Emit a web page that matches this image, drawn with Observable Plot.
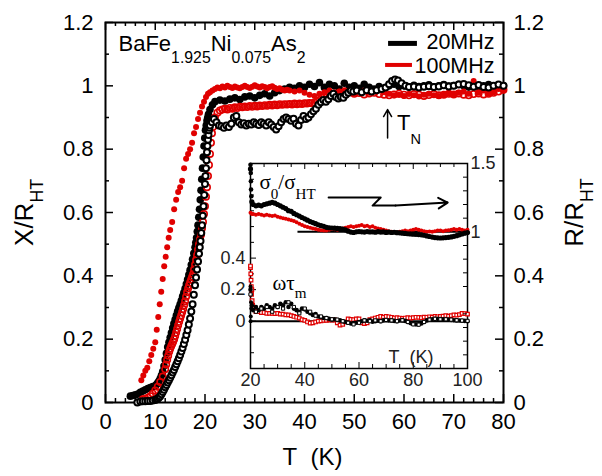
<!DOCTYPE html>
<html><head><meta charset="utf-8">
<script src="https://cdn.jsdelivr.net/npm/d3@7"></script>
<script src="https://cdn.jsdelivr.net/npm/@observablehq/plot@0.6"></script>
<style>
html,body{margin:0;padding:0;background:#fff;}
#chart{position:relative;width:602px;height:476px;overflow:hidden;}
#chart svg{position:absolute;overflow:visible;}
</style></head><body><div id="chart"></div>
<script>
// ---------------- DATA ----------------
// Main panel: [T (K), value]
const x20 = [[5.0,.020],[5.5,.022],[6.0,.024],[6.5,.027],[7.0,.032],[7.5,.036],[8.0,.040],[8.5,.044],[9.0,.047],[9.5,.050],[10.0,.053],[10.25,.057],[10.5,.062],[10.75,.068],[11.0,.076],[11.25,.086],[11.5,.098],[11.75,.115],[12.0,.135],[12.25,.155],[12.5,.175],[12.75,.19],[13.0,.205],[13.25,.22],[13.5,.235],[13.75,.249],[14.0,.262],[14.25,.275],[14.5,.288],[14.75,.299],[15.0,.310],[15.25,.322],[15.5,.335],[15.75,.347],[16.0,.360],[16.25,.374],[16.5,.388],[16.75,.403],[17.0,.418],[17.25,.435],[17.5,.452],[17.75,.471],[18.0,.490],[18.15,.505],[18.3,.52],[18.45,.54],[18.6,.56],[18.75,.585],[18.9,.61],[19.05,.64],[19.2,.67],[19.35,.705],[19.5,.74],[19.65,.775],[19.8,.81],[19.95,.835],[20.1,.86],[20.25,.875],[20.4,.89],[20.55,.90],[20.7,.91],[21.0,.925],[21.5,.94],[22,.95],
[23,.955],[24,.952],[25,.958],[26,.962],[27,.957],[28,.965],[29,.968],[30,.962],[31,.970],[32,.975],[33,.968],[34,.978],[35,.985],[36,.990],[37,.995],[38,.992],[39,1.000],[40,.995],[41,1.005],[42,.998],[43,1.010],[44,.995],[45,1.005],[46,1.000],[47,.990],[48,1.008],[49,.995],[50,1.000],[51,.992],[52,1.005],[53,.995],[54,.990],[55,.998],[56,.992],[57,1.000],[58,1.005],[59,.998],[60,1.000],
[61,.997],[62,1.002],[63,.998],[64,1.000],[65,1.003],[66,.997],[67,1.000],[68,1.004],[69,.999],[70,1.001],[71,1.005],[72,1.000],[73,.996],[74,1.002],[75,.998],[76,1.000],[77,1.004],[78,.999],[79,1.002],[80,1.000]];

const x100 = [[7.2,.07],[7.6,.085],[8.0,.10],[8.4,.11],[8.8,.13],[9.2,.15],[9.6,.17],[10.0,.19],[10.3,.23],[10.6,.27],[10.9,.31],[11.2,.35],[11.5,.39],[11.8,.43],[12.1,.46],[12.4,.49],[12.7,.52],[13.0,.545],[13.4,.57],[13.8,.61],[14.2,.64],[14.6,.665],[15.0,.68],[15.4,.70],[15.8,.74],[16.2,.77],[16.6,.785],[17.0,.80],[17.4,.82],[17.8,.85],[18.2,.87],[18.6,.895],[19.0,.915],[19.4,.935],[19.8,.95],[20.2,.965],[20.6,.975],[21.0,.98],[21.5,.985],
[22.0,.990],[22.5,.995],[23.0,.992],[23.5,.998],[24.0,.995],[24.5,1.000],[25.0,.996],[25.5,.993],[26.0,.998],[26.5,.995],[27.0,.992],[27.5,.996],[28.0,1.000],[28.5,.996],[29.0,.993],[29.5,.997],[30.0,1.002],[30.5,.998],[31.0,.995],[31.5,.999],[32.0,.996],[32.5,.992],[33.0,.996],[33.5,.999],[34.0,.994],[34.5,.990],[35.0,.992],[35.5,.988],[36.0,.985],[36.5,.988],
[37,.985],[38,.982],[39,.985],[40,.978],[41,.972],[42,.968],[43,.975],[44,.980],[45,.985],[46,.978],[47,.982],[48,.986],[49,.980],[50,.975],[51,.982],[52,.985],[53,.978],[54,.982],[55,.985],[56,.980],[57,.975],[58,.970],[59,.972],[60,.968],[61,.974],[62,.970],[63,.966],[64,.972],[65,.975],[66,.970],[67,.968],[68,.972],[69,.976],[70,.972],[71,.978],[72,.982],[73,.975],[74,1.015],[75,.978],[76,.985],[77,.975],[78,.980],[79,.990],[80,.985]];

const r100 = [[7.5,.010],[8.0,.012],[8.5,.015],[9.0,.020],[9.5,.028],[10.0,.038],[10.5,.050],[11.0,.065],[11.5,.082],[12.0,.105],[12.2,.12],[12.4,.135],[12.6,.148],[12.8,.160],[13.0,.170],[13.2,.178],[13.4,.185],[13.6,.192],[13.8,.200],[14.0,.210],[14.2,.221],[14.4,.232],[14.6,.244],[14.8,.255],[15.0,.265],[15.2,.275],[15.4,.285],[15.6,.295],[15.8,.307],[16.0,.320],[16.2,.334],[16.4,.348],[16.6,.360],[16.8,.370],[17.0,.379],[17.2,.388],[17.4,.396],[17.6,.405],[17.8,.42],[18.0,.435],[18.2,.45],[18.4,.465],[18.6,.482],[18.8,.50],[19.0,.515],[19.2,.53],[19.4,.55],[19.6,.57],[19.8,.595],[20.0,.62],[20.2,.65],[20.4,.68],[20.6,.715],[20.8,.75],[21.0,.785],[21.2,.82],[21.4,.85],[21.6,.87],[21.8,.89],[22.0,.90],[22.5,.915],
[23,.922],[23.5,.925],[24,.928],[24.5,.925],[25,.930],[25.5,.928],[26,.932],[26.5,.930],[27,.934],[27.5,.932],[28,.935],[28.5,.933],[29,.936],[29.5,.934],[30,.937],[30.5,.935],[31,.938],[31.5,.936],[32,.939],[32.5,.937],[33,.940],[33.5,.938],[34,.941],[34.5,.939],[35,.942],[35.5,.940],[36,.942],[36.5,.941],[37,.943],[37.5,.941],[38,.944],[38.5,.942],[39,.944],[39.5,.943],[40,.945],[40.5,.944],[41,.946],[41.5,.945],[42,.947],[42.5,.950],[43,.955],[43.5,.962],[44,.968],[44.5,.972],[45,.975],
[46,.976],[47,.978],[48,.974],[49,.979],[50,.975],[51,.977],[52,.973],[53,.976],[54,.978],[55,.974],[56,.972],[57,.970],[58,.973],[59,.975],[60,.972],[61,.970],[62,.974],[63,.972],[64,.968],[65,.971],[66,.974],[67,.970],[68,.972],[69,.975],[70,.973],[71,.976],[72,.972],[73,.970],[74,.974],[75,.976],[76,.973],[77,.975],[78,.978],[79,.982],[80,.988]];

const r20 = [[6.4,.000],[7.0,.003],[7.5,.004],[8.0,.004],[8.5,.005],[9.0,.005],[9.5,.006],[10.0,.008],[10.25,.010],[10.5,.012],[10.75,.016],[11.0,.020],[11.25,.026],[11.5,.033],[11.75,.040],[12.0,.048],[12.25,.055],[12.5,.063],[12.75,.070],[13.0,.078],[13.25,.086],[13.5,.095],[13.75,.103],[14.0,.112],[14.25,.121],[14.5,.130],[14.75,.140],[15.0,.150],[15.25,.161],[15.5,.172],[15.75,.185],[16.0,.198],[16.25,.213],[16.5,.228],[16.75,.246],[17.0,.265],[17.25,.287],[17.5,.31],[17.75,.34],[18.0,.37],[18.2,.395],[18.4,.42],[18.6,.445],[18.8,.47],[18.95,.49],[19.1,.51],[19.25,.535],[19.4,.56],[19.55,.59],[19.7,.62],[19.85,.655],[20.0,.69],[20.1,.715],[20.2,.74],[20.3,.765],[20.4,.79],[20.5,.81],[20.6,.83],[20.7,.845],[20.8,.86],[20.9,.868],[21.0,.875],[21.4,.885],[21.8,.895],
[22.3,.885],[22.8,.875],[23.3,.872],[23.8,.868],[24.3,.875],[24.8,.870],[25.3,.880],[25.8,.900],[26.3,.905],[26.8,.885],[27.3,.878],[27.8,.882],[28.3,.875],[28.8,.880],[29.3,.878],[29.8,.885],[30.3,.880],[30.8,.876],[31.3,.885],[31.8,.880],[32.3,.875],[32.8,.885],[33.3,.878],[33.8,.870],[34.3,.862],[34.8,.872],[35.3,.885],[35.8,.895],[36.3,.900],[36.8,.895],[37.3,.890],[37.8,.896],[38.3,.880],[38.8,.875],[39.3,.892],[39.8,.905],[40.3,.895],[40.8,.900],[41.3,.910],[41.8,.920],[42.3,.928],[42.8,.940],[43.3,.948],[43.8,.955],[44.3,.950],[44.8,.958],[45.3,.968],[45.8,.975],[46.3,.965],[46.8,.960],[47.3,.965],[47.8,.962],[48.3,.972],[48.8,.978],[49.3,.985],[49.8,.982],
[50.5,.985],[51.5,.980],[52.5,.986],[53.5,.982],[54.5,.986],[55.5,.990],[56.3,.995],[57.0,1.005],[57.6,1.015],[58.2,1.020],[58.8,1.017],[59.5,1.008],[60.3,1.000],[61,.996],[62,.998],[63,.995],[64,.997],[65,.999],[66,.996],[67,.998],[68,1.002],[69,.998],[70,1.000],[71,1.004],[72,1.006],[73,1.002],[74,.997],[75,1.003],[76,.996],[77,.995],[78,1.000],[79,1.004],[80,1.000]];

// Inset: temperature grid and series
const insetT = [20,20.5,21,22,23,24,25,26,27,28,29,30,31,32,33,34,35,36,37,38,39,40,41,42,43,44,45,46,47,48,49,50,51,52,53,54,55,56,57,58,59,60,61,62,63,64,65,66,67,68,69,70,71,72,73,74,75,76,77,78,79,80,81,82,83,84,85,86,87,88,89,90,91,92,93,94,95,96,97,98,99,100];
// sigma_0 / sigma_HT (right inset axis)
const sigma20 = [1.46,1.22,1.20,1.19,1.195,1.19,1.20,1.205,1.21,1.215,1.21,1.20,1.19,1.18,1.17,1.155,1.15,1.135,1.125,1.115,1.105,1.095,1.085,1.075,1.068,1.06,1.052,1.045,1.04,1.033,1.03,1.028,1.027,1.025,1.024,1.02,1.015,1.005,.998,.995,1.0,1.002,1.0,.998,1.002,.999,1.0,.997,1.001,.998,.999,.996,.998,.995,.997,.994,.993,.99,.988,.986,.985,.983,.982,.98,.978,.975,.97,.966,.962,.958,.956,.955,.956,.958,.96,.963,.967,.972,.978,.984,.99,.995];
const sigma20spike = [[20,1.49],[20.1,1.43],[20.15,1.37],[20.2,1.31],[20.3,1.26]];
const sigma100 = [1.14,1.13,1.13,1.125,1.13,1.125,1.12,1.125,1.12,1.115,1.12,1.11,1.105,1.10,1.095,1.09,1.085,1.08,1.07,1.06,1.05,1.04,1.035,1.03,1.025,1.02,1.015,1.012,1.01,1.01,1.015,1.02,1.018,1.015,1.02,1.025,1.03,1.035,1.04,1.035,1.04,1.045,1.05,1.04,1.045,1.035,1.04,1.03,1.025,1.02,1.015,1.01,1.005,1.0,.998,.995,1.0,1.005,1.01,1.005,1.01,1.015,1.02,1.015,1.01,1.005,1.0,1.003,1.0,1.005,1.01,1.01,1.005,1.01,1.012,1.015,1.02,1.015,1.02,1.015,1.01,1.015];
// omega tau_m (left inset axis)
const wt20 = [.20,.10,.07,.09,.07,.09,.08,.10,.09,.08,.10,.09,.11,.10,.12,.09,.11,.08,.07,.06,.08,.075,.06,.05,.04,.045,.03,.025,.02,.02,.015,.01,.012,.008,.005,.0,-.005,-.01,-.015,-.012,-.01,-.005,.0,.005,.003,.005,-.003,.0,.003,.0,.005,.006,.004,.005,.002,.0,.004,.005,.002,-.005,-.012,-.018,-.02,-.02,-.015,-.005,.005,.01,.012,.015,.015,.014,.012,.01,.01,.008,.006,.005,.004,.003,.002,.0];
const wt20spike = [[20,.22],[20.1,.17],[20.2,.12],[20.3,.08],[20.1,.03],[20.05,.0]];
const wt20open = [[20,.17],[22,.06],[24,.08],[26,.09],[28,.06],[30,.09],[32,.08],[34,.12],[36,.09],[38,.05],[40,.08],[42,.06],[44,.035],[46,.03],[48,.02],[50,.012],[52,.01],[54,.0],[56,-.01],[58,-.02],[60,-.01],[62,.005],[64,.0],[66,.005],[68,.0],[70,.008],[72,.005],[74,.0],[76,.006],[78,-.005],[80,-.02],[82,-.022],[84,-.005],[86,.01],[88,.015],[90,.012],[92,.012],[94,.01],[96,.006],[98,.004],[100,.002]];
const wt100 = [.35,.20,.08,.06,.06,.055,.055,.05,.05,.05,.048,.05,.045,.045,.04,.04,.035,.03,.025,.02,.01,.005,-.005,-.012,-.01,-.005,.0,.002,.005,.005,.008,.006,.008,-.01,-.025,-.02,-.005,.015,.012,.01,.014,.015,-.01,-.015,-.01,.01,.015,.02,.025,.03,.025,.03,.028,.025,.02,.022,.02,.018,.02,.022,.02,.022,.025,.024,.022,.026,.025,.028,.026,.03,.028,.03,.032,.035,.032,.035,.04,.038,.042,.05,.048,.045];
const wt100spike = [[20,.34],[20.1,.30],[20.2,.26],[20.3,.22],[20.4,.17],[20.6,.13],[20.8,.10]];

// Tick values and labels
const mainXLabels = [0,10,20,30,40,50,60,70,80];
const mainXMinor = [2,4,6,8,12,14,16,18,22,24,26,28,32,34,36,38,42,44,46,48,52,54,56,58,62,64,66,68,72,74,76,78];
const mainYLabels = [0,0.2,0.4,0.6,0.8,1,1.2];
const mainYMinor = [0.1,0.3,0.5,0.7,0.9,1.1];
const insetXLabels = [20,40,60,80,100];
const insetXMinor = [25,30,35,45,50,55,65,70,75,85,90,95];
const insetLeftLabels = [0,0.2,0.4];
const insetLeftTicks = [-0.2,-0.1,0.1,0.3,0.5,0.6,0.7,0.8,0.9];
const insetRightLabels = [1,1.5];
const insetRightTicks = [0.1,0.2,0.3,0.4,0.6,0.7,0.8,0.9,1.1,1.2,1.3,1.4];
const legendLabels = ["20MHz","100MHz"];
const legendColors = ["black","#e00000"];

// ---------------- ANNOTATION PLACEMENT ----------------
const RED = "#e00000";
const SANS = '"Liberation Sans", Arial, Helvetica, sans-serif';
const SERIF = '"Liberation Serif", "Times New Roman", serif';
const legendTextX = 78.2, legendTextY = [1.117, 1.039];
const legendSwatch = [{x1: 56.9, x2: 62.7, y: 1.134}, {x1: 56.3, x2: 61.7, y: 1.066}];
const sigArrowPath = [[48.8,1.251],[68.0,1.251],[65.0,1.192],[73.5,1.192]];

// ---------------- HELPERS ----------------
const SVGNS = "http://www.w3.org/2000/svg";
const subSpec = {
  "BaFe_{1.925}Ni_{0.075}As_{2}": [0.58, 0.72],
  "T_{N}": [0.62, 0.66],
  "X/R_{HT}": [0.38, 0.68],
  "R/R_{HT}": [0.38, 0.68],
  "σ_{0}/σ_{HT}": [0.5, 0.72],
  "ωτ_{m}": [0.35, 0.72]
};
function subscriptify(root) {
  root.querySelectorAll("text").forEach(t => {
    const s = t.textContent;
    if (!s.includes("_{")) return;
    const [shift, ratio] = subSpec[s] || [0.5, 0.7];
    const parts = s.split(/(_\{[^}]*\})/).filter(p => p);
    while (t.firstChild) t.removeChild(t.firstChild);
    let down = false;
    for (const p of parts) {
      const ts = document.createElementNS(SVGNS, "tspan");
      const m = /^_\{([^}]*)\}$/.exec(p);
      if (m) {
        ts.textContent = m[1];
        ts.setAttribute("font-size", `${ratio * 100}%`);
        if (!down) ts.setAttribute("dy", `${shift / ratio}em`);
        down = true;
      } else {
        ts.textContent = p;
        if (down) ts.setAttribute("dy", `${-shift}em`);
        down = false;
      }
      t.appendChild(ts);
    }
  });
}
const X = d => d[0], Y = d => d[1];

// ---------------- MAIN PLOT ----------------
const M = {w: 602, h: 476, top: 22, right: 99, bottom: 74, left: 105};
const FW = M.w - M.left - M.right, FH = M.h - M.top - M.bottom;

const main = Plot.plot({
  width: M.w, height: M.h,
  marginTop: M.top, marginRight: M.right, marginBottom: M.bottom, marginLeft: M.left,
  style: {fontFamily: SANS, background: "transparent", color: "black"},
  x: {domain: [0, 80]},
  y: {domain: [0, 1.2]},
  marks: [
    Plot.frame({stroke: "black", strokeWidth: 2}),
    Plot.tickX(mainXMinor, {insetTop: FH - 4, strokeWidth: 1.5}),
    Plot.tickX(mainXMinor, {insetBottom: FH - 4, strokeWidth: 1.5}),
    Plot.tickX(mainXLabels, {insetTop: FH - 8, strokeWidth: 1.5}),
    Plot.tickX(mainXLabels, {insetBottom: FH - 8, strokeWidth: 1.5}),
    Plot.tickY(mainYMinor, {insetRight: FW - 4, strokeWidth: 1.5}),
    Plot.tickY(mainYMinor, {insetLeft: FW - 4, strokeWidth: 1.5}),
    Plot.tickY(mainYLabels, {insetRight: FW - 8, strokeWidth: 1.5}),
    Plot.tickY(mainYLabels, {insetLeft: FW - 8, strokeWidth: 1.5}),
    // data
    Plot.dot(x20, {x: X, y: Y, r: 3.8, fill: "black"}),
    Plot.dot(x100, {x: X, y: Y, r: 3, fill: RED}),
    Plot.dot(r100, {x: X, y: Y, r: 3.2, fill: "none", stroke: RED, strokeWidth: 1.6}),
    Plot.dot(r20, {x: X, y: Y, r: 3, fill: "white", stroke: "black", strokeWidth: 2}),
    // axes
    Plot.axisX(mainXLabels, {anchor: "bottom", tickSize: 0, tickPadding: 11, fontSize: 22, label: null}),
    Plot.axisY(mainYLabels, {anchor: "left", tickSize: 0, tickPadding: 12, fontSize: 22, label: null, tickFormat: d => String(d)}),
    Plot.axisY(mainYLabels, {anchor: "right", tickSize: 0, tickPadding: 10, fontSize: 22, label: null, tickFormat: d => String(d)}),
    Plot.text(["T\u00a0\u00a0(K)"], {frameAnchor: "bottom", dx: 8, dy: 55, fontSize: 24, textAnchor: "middle", lineAnchor: "middle"}),
    Plot.text(["X/R_{HT}"], {frameAnchor: "left", dx: -81, rotate: -90, fontSize: 26, textAnchor: "middle", lineAnchor: "middle"}),
    Plot.text(["R/R_{HT}"], {frameAnchor: "right", dx: 71, rotate: -90, fontSize: 26, textAnchor: "middle", lineAnchor: "middle"}),
    // annotations
    Plot.text(["BaFe_{1.925}Ni_{0.075}As_{2}"], {frameAnchor: "top-left", dx: 13, dy: 28, textAnchor: "start", lineAnchor: "bottom", fontSize: 22}),
    Plot.ruleY([legendSwatch[0]], {y: "y", x1: "x1", x2: "x2", stroke: legendColors[0], strokeWidth: 5}),
    Plot.ruleY([legendSwatch[1]], {y: "y", x1: "x1", x2: "x2", stroke: legendColors[1], strokeWidth: 4}),
    Plot.text(legendLabels, {x: legendTextX, y: (d, i) => legendTextY[i], textAnchor: "end", lineAnchor: "bottom", fontSize: 21.5}),
    Plot.arrow([0], {x1: 56.7, y1: 0.835, x2: 56.7, y2: 0.925, stroke: "black", strokeWidth: 1.5, headLength: 8}),
    Plot.text(["T_{N}"], {x: 58.6, y: 0.859, textAnchor: "start", lineAnchor: "bottom", fontSize: 22})
  ]
});
main.style.left = "0px"; main.style.top = "0px";
subscriptify(main);

// ---------------- INSET ----------------
const I = {left: 200, top: 140, w: 300, h: 255, mL: 50, mT: 23, mR: 33, mB: 27};
const IW = I.w - I.mL - I.mR, IH = I.h - I.mT - I.mB;
const insetCommon = {
  width: I.w, height: I.h,
  marginLeft: I.mL, marginTop: I.mT, marginRight: I.mR, marginBottom: I.mB,
  style: {fontFamily: SANS, background: "transparent", color: "#222"}
};

const insetA = Plot.plot({
  ...insetCommon,
  x: {domain: [20, 100]},
  y: {domain: [-0.3, 1.0]},
  marks: [
    Plot.frame({stroke: "black", strokeWidth: 1.5}),
    Plot.tickX(insetXMinor, {insetTop: IH - 4, stroke: "black"}),
    Plot.tickX(insetXMinor, {insetBottom: IH - 4, stroke: "black"}),
    Plot.tickX(insetXLabels, {insetTop: IH - 6, stroke: "black"}),
    Plot.tickX(insetXLabels, {insetBottom: IH - 6, stroke: "black"}),
    Plot.tickY(insetLeftTicks, {insetRight: IW - 4, stroke: "black"}),
    Plot.tickY(insetLeftLabels, {insetRight: IW - 6, stroke: "black"}),
    Plot.ruleY([0], {stroke: "black", strokeWidth: 2}),
    Plot.dot(wt100spike, {x: X, y: Y, symbol: "square", r: 2, fill: "white", stroke: RED, strokeWidth: 1.2}),
    Plot.dot(wt100, {x: insetT, y: wt100, symbol: "square", r: 2, fill: "white", stroke: RED, strokeWidth: 1.2}),
    Plot.dot(wt20spike, {x: X, y: Y, r: 2, fill: "black"}),
    Plot.dot(wt20, {x: insetT, y: wt20, r: 2.3, fill: "black"}),
    Plot.dot(wt20open, {x: X, y: Y, symbol: "square", r: 1.8, fill: "white", stroke: "black", strokeWidth: 1}),
    Plot.axisX(insetXLabels, {anchor: "bottom", tickSize: 0, tickPadding: 5, fontSize: 18, label: null}),
    Plot.axisY(insetLeftLabels, {anchor: "left", tickSize: 0, tickPadding: 5, fontSize: 18, label: null, tickFormat: d => String(d)}),
    Plot.text(["ωτ_{m}"], {x: 28.1, y: 0.195, textAnchor: "start", lineAnchor: "bottom", fontFamily: SERIF, fontSize: 21, fill: "black"}),
    Plot.text(["T\u00a0\u00a0(K)"], {x: 70.9, y: -0.262, textAnchor: "start", lineAnchor: "bottom", fontSize: 18})
  ]
});

const insetB = Plot.plot({
  ...insetCommon,
  x: {domain: [20, 100], axis: null},
  y: {domain: [0, 1.5]},
  marks: [
    Plot.tickY(insetRightTicks, {insetLeft: IW - 4, stroke: "black"}),
    Plot.tickY(insetRightLabels, {insetLeft: IW - 6, stroke: "black"}),
    Plot.ruleY([1], {x1: 37.5, x2: 100, stroke: "black", strokeWidth: 2}),
    Plot.dot(sigma100, {x: insetT, y: sigma100, r: 2, fill: RED}),
    Plot.dot(sigma20spike, {x: X, y: Y, r: 2.3, fill: "black"}),
    Plot.dot(sigma20, {x: insetT, y: sigma20, r: 2.6, fill: "black"}),
    Plot.line(sigArrowPath, {x: X, y: Y, stroke: "black", strokeWidth: 2}),
    Plot.arrow([0], {x1: 73.5, y1: 1.192, x2: 92.7, y2: 1.214, stroke: "black", strokeWidth: 2, headLength: 8}),
    Plot.axisY(insetRightLabels, {anchor: "right", tickSize: 0, tickPadding: 3, fontSize: 18, label: null, tickFormat: d => String(d)}),
    Plot.text(["σ_{0}/σ_{HT}"], {x: 23.3, y: 1.317, textAnchor: "start", lineAnchor: "bottom", fontFamily: SERIF, fontSize: 21, fill: "black"})
  ]
});
for (const s of [insetA, insetB]) {
  s.style.left = I.left + "px"; s.style.top = I.top + "px";
  subscriptify(s);
}
const host = document.getElementById("chart");
host.append(main, insetA, insetB);
</script></body></html>
